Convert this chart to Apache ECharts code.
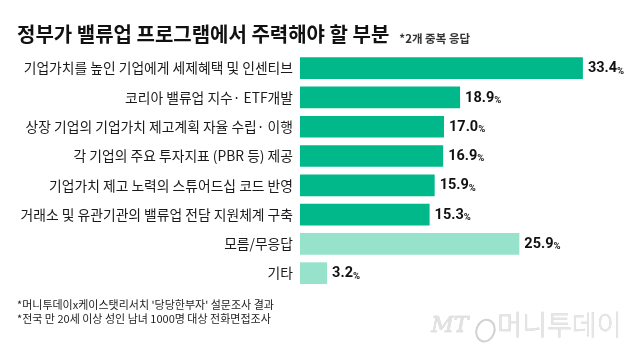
<!DOCTYPE html>
<html>
<head>
<meta charset="utf-8">
<script src="https://cdn.jsdelivr.net/npm/echarts@6/dist/echarts.min.js"></script>
<style>html,body{margin:0;padding:0;background:#fff}#c{width:640px;height:350px}</style>
</head>
<body>
<div id="c"></div>
<script>
const categories = [
  '기업가치를 높인 기업에게 세제혜택 및 인센티브',
  '코리아 밸류업 지수· ETF개발',
  '상장 기업의 기업가치 제고계획 자율 수립· 이행',
  '각 기업의 주요 투자지표 (PBR 등) 제공',
  '기업가치 제고 노력의 스튜어드십 코드 반영',
  '거래소 및 유관기관의 밸류업 전담 지원체계 구축',
  '모름/무응답',
  '기타'
];
const values = [33.4, 18.9, 17.0, 16.9, 15.9, 15.3, 25.9, 3.2];
const isMinor = [false, false, false, false, false, false, true, true];
const titleText = '정부가 밸류업 프로그램에서 주력해야 할 부분';
const subText = '*2개 중복 응답';
const notes = [
  "*머니투데이x케이스탯리서치 '당당한부자' 설문조사 결과",
  '*전국 만 20세 이상 성인 남녀 1000명 대상 전화면접조사'
];

const DARK = '#00b88a';
const LIGHT = '#97e2cb';
const KR = "'Noto Sans CJK KR', 'Noto Sans', sans-serif";

const chart = echarts.init(document.getElementById('c'), null, {renderer: 'canvas'});
chart.setOption({
  backgroundColor: '#ffffff',
  animation: false,
  title: [
    {
      left: 12, top: 15, padding: 5,
      text: '{a|' + titleText + '}  {b|' + subText + '}',
      textStyle: {
        rich: {
          a: {fontFamily: KR, fontSize: 20, fontWeight: 'bold', color: '#111', verticalAlign: 'bottom', lineHeight: 24},
          b: {fontFamily: KR, fontSize: 11.5, color: '#333', verticalAlign: 'bottom', lineHeight: 18}
        }
      }
    },
    {left: 12, top: 294, text: notes[0], textStyle: {fontFamily: KR, fontSize: 11, fontWeight: 'normal', color: '#222'}},
    {left: 12, top: 308, text: notes[1], textStyle: {fontFamily: KR, fontSize: 11, fontWeight: 'normal', color: '#222'}}
  ],
  grid: {left: 300, right: 1.2, top: 53.5, bottom: 62.2, containLabel: false},
  xAxis: {
    type: 'value', min: 0, max: 40, show: false
  },
  yAxis: {
    type: 'category', data: categories, inverse: true,
    axisLine: {show: false}, axisTick: {show: false}, splitLine: {show: false},
    axisLabel: {fontFamily: KR, fontSize: 13.8, color: '#1a1a1a', margin: 7}
  },
  series: [{
    type: 'bar',
    barWidth: '74%',
    data: values.map((v, i) => ({value: v, itemStyle: {color: isMinor[i] ? LIGHT : DARK}})),
    label: {
      show: true, position: 'right', distance: 5,
      formatter: p => '{v|' + p.value.toFixed(1) + '}{p|%}',
      rich: {
        v: {fontFamily: 'Roboto, sans-serif', fontWeight: 'bold', fontSize: 14.5, color: '#111', verticalAlign: 'bottom', lineHeight: 16},
        p: {fontFamily: 'Roboto, sans-serif', fontWeight: 'bold', fontSize: 9.5, color: '#111', verticalAlign: 'bottom', lineHeight: 13}
      }
    }
  }],
  graphic: [
    {type: 'text', left: 431, top: 315, style: {text: 'MT', font: 'italic 22px "DejaVu Serif", serif', fill: '#e2e2e2', stroke: '#cfcfcf', lineWidth: 0.6}},
    {type: 'ellipse', left: 470, top: 314, shape: {cx: 10, cy: 11, rx: 9, ry: 11}, rotation: -0.35, style: {fill: 'none', stroke: '#d2d2d2', lineWidth: 2}},
    {type: 'text', left: 497, top: 311, style: {text: '머니투데이', font: '200 27px "Noto Sans CJK KR", sans-serif', fill: '#e6e6e6', stroke: '#cccccc', lineWidth: 0.6}}
  ]
});
</script>
</body>
</html>
